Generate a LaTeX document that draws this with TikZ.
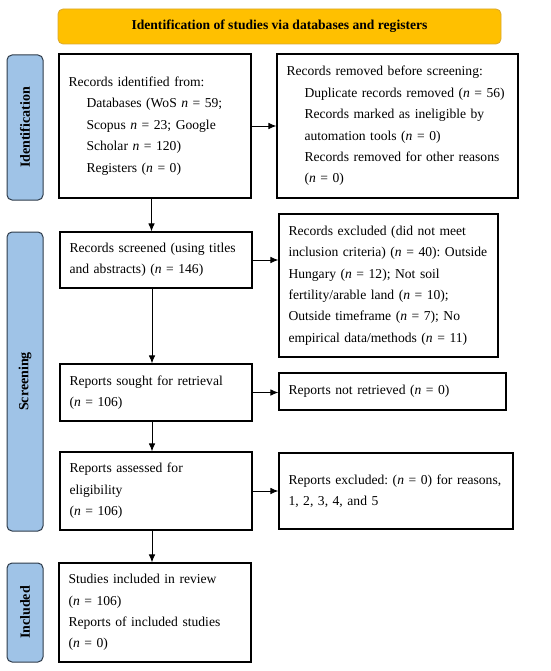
\documentclass[tikz,border=0pt]{standalone}
\usepackage{fontspec}
\setmainfont{Liberation Serif}
\frenchspacing
\usetikzlibrary{arrows.meta}
\definecolor{bannerfill}{HTML}{FFC000}
\definecolor{bannerline}{HTML}{D9A830}
\definecolor{sidefill}{HTML}{9FC3E7}
\definecolor{sideline}{HTML}{2E3B4A}
\newcommand\myn{\textit{n}}
\newcommand\ind{\hspace*{18pt}}
\newcommand\boxfont{\fontsize{13.6}{21.4}\selectfont}
\begin{document}
\begin{tikzpicture}[x=1pt,y=-1pt,
  pbox/.style={draw, line width=1.1pt, align=left, inner xsep=9.5pt, inner ysep=0pt, font=\boxfont},
  sidelabel/.style={draw=sideline, fill=sidefill, line width=1pt, rounded corners=5pt, minimum width=36pt, font=\bfseries\fontsize{14}{16}\selectfont},
  flow/.style={line width=0.9pt, -{Latex[length=8pt,width=6.5pt]}}]
\useasboundingbox (0,0) rectangle (550,671);
\node[draw=bannerline, fill=bannerfill, line width=0.8pt, rounded corners=5pt, minimum width=443pt, minimum height=35pt, font=\bfseries\fontsize{13.6}{15}\selectfont] (banner) at (279.5,26.5) {Identification of studies via databases and registers};
\node[sidelabel, minimum height=145pt] (sid) at (25,127.5) {\rotatebox{90}{Identification}};
\node[sidelabel, minimum height=299pt] (sscr) at (25,381.5) {\rotatebox{90}{Screening}};
\node[sidelabel, minimum height=99pt] (sinc) at (25,612.5) {\rotatebox{90}{Included}};
\node[pbox, minimum width=192pt, minimum height=144pt, text width=173pt] (b1) at (155,126) {Records identified from:\\ \ind Databases (WoS \myn{} = 59;\\ \ind Scopus \myn{} = 23; Google\\ \ind Scholar \myn{} = 120)\\ \ind Registers (\myn{} = 0)};
\node[pbox, minimum width=241pt, minimum height=144pt, text width=222pt] (b2) at (397.5,126) {Records removed before screening:\\ \ind \mbox{Duplicate records removed (\myn{} = 56)}\\ \ind Records marked as ineligible by\\ \ind automation tools (\myn{} = 0)\\ \ind \mbox{Records removed for other reasons}\\ \ind (\myn{} = 0)};
\node[pbox, minimum width=192pt, minimum height=56pt, text width=173pt] (b3) at (156,260) {\mbox{Records screened (using titles}\\ and abstracts) (\myn{} = 146)};
\node[pbox, minimum width=219pt, minimum height=143pt, text width=200pt] (b4) at (388.5,285.5) {Records excluded (did not meet\\ \mbox{inclusion criteria) (\myn{} = 40): Outside}\\ Hungary (\myn{} = 12); Not soil\\ fertility/arable land (\myn{} = 10);\\ Outside timeframe (\myn{} = 7); No\\ \mbox{empirical data/methods (\myn{} = 11)}};
\node[pbox, minimum width=192pt, minimum height=57pt, text width=173pt] (b5) at (156,392.5) {Reports sought for retrieval\\ (\myn{} = 106)};
\node[pbox, minimum width=227pt, minimum height=37pt, text width=208pt] (b6) at (392.5,391.5) {Reports not retrieved (\myn{} = 0)};
\node[pbox, minimum width=192pt, minimum height=78pt, text width=173pt] (b7) at (156,491) {Reports assessed for\\ eligibility\\ (\myn{} = 106)};
\node[pbox, minimum width=234pt, minimum height=76pt, text width=215pt] (b8) at (396,491) {\mbox{Reports excluded: (\myn{} = 0) for reasons,}\\ 1, 2, 3, 4, and 5};
\node[pbox, minimum width=192pt, minimum height=99pt, text width=173pt] (b9) at (155,612.5) {Studies included in review\\ (\myn{} = 106)\\ \mbox{Reports of included studies}\\ (\myn{} = 0)};
\draw[flow] (b1.east) -- (b1.east -| b2.west);
\draw[flow] (b3.east) -- (b3.east -| b4.west);
\draw[flow] (b5.east) -- (b5.east -| b6.west);
\draw[flow] (b7.east) -- (b7.east -| b8.west);
\draw[flow] ([xshift=-3.5pt]b1.south) -- ([xshift=-3.5pt]b1.south |- b3.north);
\draw[flow] ([xshift=-4pt]b3.south) -- ([xshift=-4pt]b3.south |- b5.north);
\draw[flow] ([xshift=-4pt]b5.south) -- ([xshift=-4pt]b5.south |- b7.north);
\draw[flow] ([xshift=-4pt]b7.south) -- ([xshift=-4pt]b7.south |- b9.north);
\end{tikzpicture}
\end{document}
